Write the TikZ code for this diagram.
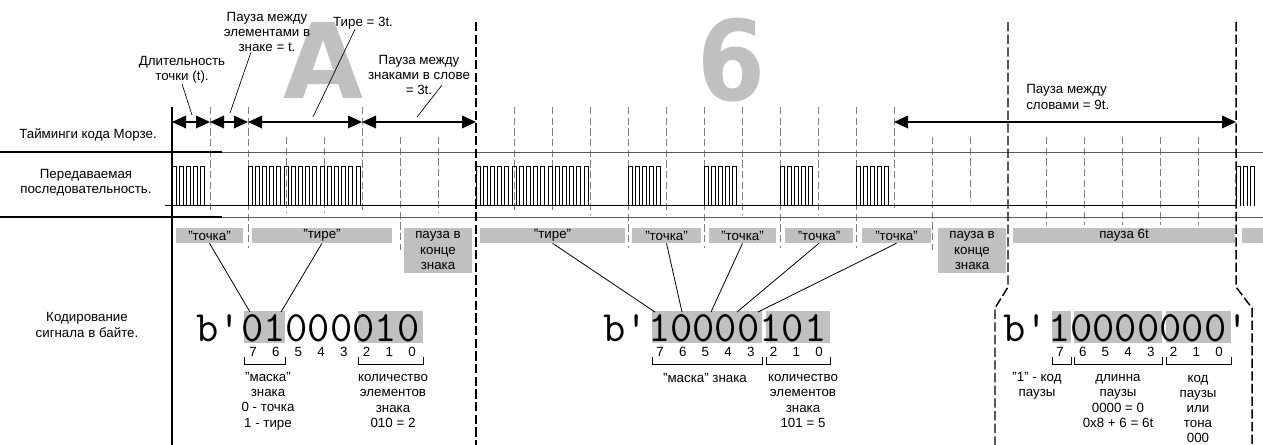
\documentclass[tikz,border=0pt]{standalone}
\usepackage{fontspec}
\setmainfont{Liberation Sans}
\newfontfamily\bigfont{DejaVu Sans}
\usetikzlibrary{arrows.meta}
\definecolor{boxgray}{RGB}{192,192,192}
\definecolor{gridgray}{RGB}{128,128,128}
\definecolor{rulegray}{RGB}{90,90,90}
\begin{document}
\begin{tikzpicture}[x=0.75pt, y=-0.75pt, font=\fontsize{10}{11.4}\selectfont,
  >={Triangle[length=10.5pt, width=9.5pt]},
  txt/.style={align=center, inner sep=0pt},
  lbl/.style={fill=boxgray, inner sep=0pt, align=center},
  grid/.style={gridgray, line width=0.6pt, dash pattern=on 5.5pt off 2.5pt},
  bound/.style={line width=1.1pt, dash pattern=on 7pt off 2.5pt},
  tarrow/.style={<->, line width=0.9pt},
  ptr/.style={line width=0.5pt},
  sig/.style={line width=0.75pt},
  bytetext/.style={anchor=base west, inner sep=0pt,
    font=\ttfamily\fontsize{32.45}{34}\selectfont}]
\useasboundingbox (0,0) rectangle (1263,445);
\fill[white] (0,0) rectangle (1263,445);
\def\tu{38}
\foreach \k in {0,...,28}
  \coordinate (t\k) at (172+\tu*\k,122);
\node[anchor=north west, inner sep=0pt, text=boxgray] (bigA) at (283,22)
  {\resizebox*{60pt}{57pt}{\bigfont\bfseries A}};
\node[anchor=north west, inner sep=0pt, text=boxgray] (big6) at (697,18)
  {\resizebox*{51pt}{63pt}{\bigfont\bfseries 6}};
\foreach \k/\a/\b in {1/107/210, 2/107/248, 3/137/213, 4/137/213, 5/107/210,
    6/137/250, 7/137/213, 9/107/213, 10/107/213, 11/107/215, 12/107/248,
    13/107/215, 14/107/248, 15/107/215, 16/107/248, 17/107/215, 18/107/248,
    19/107/208, 20/137/250, 21/137/202, 23/137/225, 24/137/225, 25/137/225,
    26/137/225, 27/137/225}
  \draw[grid] (172+\tu*\k,\a) -- (172+\tu*\k,\b);
\draw[rulegray, line width=0.6pt] (0,152) -- (1263,152) (0,217) -- (1263,217);
\draw[line width=0.9pt] (0,152) -- (222,152) (0,217) -- (222,217);
\foreach \a/\b/\n/\s in {176/243/dotA/"точка", 252/392/dashA/"тире",
    480/625/dashS/"тире", 632/701/dotSa/"точка", 709/776/dotSb/"точка",
    785/853/dotSc/"точка", 862/931/dotSd/"точка", 1013/1235/wordgap/пауза 6t,
    1242/1263/nextch/}
  \node[lbl, minimum width={(\b-\a)*0.75pt}, minimum height=11.25pt] (\n)
    at ({(\a+\b)/2},235.5) {\s};
\foreach \a/\n in {404/endA, 938/endS}
  \node[lbl, minimum width=51pt, minimum height=33.75pt] (\n) at (\a+34,250.5)
    {пауза в\\конце\\знака};
\draw[sig] (165,206) -- (t28 |- 0,206);
\foreach \s/\n in {0/5, 2/16, 8/16, 12/5, 14/5, 16/5, 18/5, 28/3}
  \foreach \i in {1,...,\n}
    \draw[sig] (172+\tu*\s+7.2*\i-7.2,206) |- (172+\tu*\s+7.2*\i-3.2,167)
      -- (172+\tu*\s+7.2*\i-3.2,206);
\foreach \a/\b in {0/1, 1/2, 2/5, 5/8, 19/28}
  \draw[tarrow] (t\a) -- (t\b);
\draw[line width=1pt] (t0 |- 0,107) -- (t0 |- 0,445);
\draw[bound] (476,22) -- (476,445);
\draw[bound] (1008,22) -- (1008,287) -- (995,308) -- (995,445);
\draw[bound] (1236,22) -- (1236,287) -- (1252,308) -- (1252,445);
\foreach \a/\b in {244/285, 358/423, 652/762, 766/830, 1052/1071, 1074/1162,
    1166/1231}{
  \fill[boxgray] (\a,311) rectangle (\b,343);
  \draw[line width=0.7pt] (\a,357) |- (\b,364) -- (\b,357);
}
\node[bytetext] (byteA) at (196.2,341) {b'01000010};
\node[bytetext] (byteS) at (603.3,341) {b'10000101};
\node[bytetext] (byteW) at (1003.2,341) {b'10000000'};
\foreach \x in {253,660,1060}
  \foreach \bitno [count=\c from 0] in {7,6,...,0}
    \node[inner sep=0pt] (n\x\bitno) at (\x+22.72*\c,352) {\bitno};
\node[txt] (maskA) at (268,401) {"маска"\\знака\\0 - точка\\1 - тире};
\node[txt] (cntA) at (393,401) {количество\\элементов\\знака\\010 = 2};
\node[txt] (maskS) at (705,378) {"маска" знака};
\node[txt] (cntS) at (803,401) {количество\\элементов\\знака\\101 = 5};
\node[txt] (flagW) at (1037,386) {"1" - код\\паузы};
\node[txt] (lenW) at (1118,401) {длинна\\паузы\\0000 = 0\\0x8 + 6 = 6t};
\node[txt] (codeW) at (1198,409) {код\\паузы\\или\\тона\\000};
\node[txt] (durlbl) at (182,70) {Длительность\\точки (t).};
\node[txt] (gaplbl) at (267,32) {Пауза между\\элементами в\\знаке = t.};
\node[txt] (dashlbl) at (363,23) {Тире = 3t.};
\node[txt] (charlbl) at (419,75) {Пауза между\\знаками в слове\\= 3t.};
\node[txt, align=left, anchor=west] (wordlbl) at (1026,97)
  {Пауза между\\словами = 9t.};
\node[txt] (rowT) at (88,135) {Тайминги кода Морзе.};
\node[txt] (rowS) at (86,183) {Передаваемая\\последовательность.};
\node[txt] (rowB) at (87,325) {Кодирование\\сигнала в байте.};
\path (192,115) coordinate (durpt) (230,113) coordinate (gappt)
  (313,117) coordinate (dashpt) (417,117) coordinate (charpt);
\draw[ptr] (durlbl.south) -- (durpt);
\draw[ptr] ([xshift=-12pt]gaplbl.south) -- (gappt);
\draw[ptr] ([xshift=-6pt]dashlbl.south) -- (dashpt);
\draw[ptr] ([shift={(23,-10)}]charlbl.south) -- (charpt);
\path (250,312) coordinate (pA7) (281,312) coordinate (pA6)
  (655,312) coordinate (pS7) (682,312) coordinate (pS6) (711,312) coordinate (pS5)
  (737,312) coordinate (pS4) (758,312) coordinate (pS3);
\foreach \n/\p in {dotA/pA7, dashA/pA6, dashS/pS7, dotSa/pS6, dotSb/pS5,
    dotSc/pS4, dotSd/pS3}
  \draw[line width=0.6pt] (\n.south) -- (\p);
\end{tikzpicture}
\end{document}
